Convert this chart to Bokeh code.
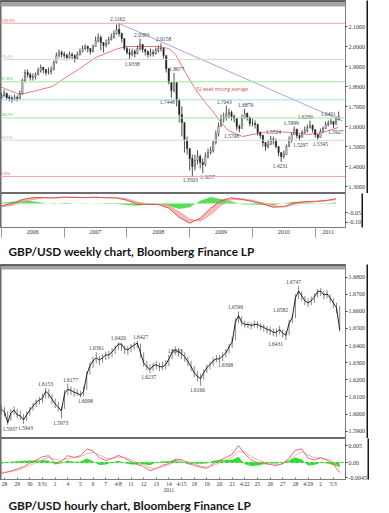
from bokeh.plotting import figure
from bokeh.models import (Range1d, LinearAxis, FixedTicker, BoxAnnotation, Label,
                          Span, ColumnDataSource, NumeralTickFormatter)
from bokeh.layouts import column
from bokeh.embed import file_html
from bokeh.resources import INLINE
from bokeh.core.properties import value

SERIF = "Liberation Serif"
SANS = "Open Sans"
CAPTION_FONT = "Lato"

# ---------------- weekly GBP/USD (x = months since Jan 2006, half-month bars) -------------
wk_close = [
    1.755, 1.765, 1.745, 1.740, 1.735, 1.745, 1.740, 1.765, 1.830, 1.870, 1.860, 1.845,
    1.850, 1.860, 1.880, 1.895, 1.885, 1.870, 1.875, 1.885, 1.920, 1.955, 1.970, 1.960,
    1.955, 1.945, 1.960, 1.955, 1.940, 1.960, 1.975, 1.990, 2.000, 1.990, 1.975, 2.000,
    2.030, 2.045, 2.020, 2.005, 2.015, 2.035, 2.045, 2.065, 2.085, 2.065, 2.040, 1.990,
    1.970, 1.960, 1.975, 1.965, 1.990, 2.010, 1.985, 1.975, 1.960, 1.970, 1.965, 1.980,
    1.990, 1.990, 1.955, 1.890, 1.820, 1.780, 1.820, 1.730, 1.660, 1.620, 1.530, 1.490,
    1.440, 1.400, 1.430, 1.450, 1.420, 1.410, 1.450, 1.470, 1.480, 1.520, 1.560, 1.600,
    1.640, 1.645, 1.660, 1.670, 1.650, 1.640, 1.600, 1.590, 1.640, 1.665, 1.645, 1.615,
    1.615, 1.610, 1.570, 1.555, 1.520, 1.500, 1.510, 1.535, 1.530, 1.500, 1.470, 1.450,
    1.460, 1.500, 1.530, 1.560, 1.585, 1.555, 1.545, 1.570, 1.580, 1.595, 1.605, 1.585,
    1.560, 1.545, 1.575, 1.590, 1.610, 1.615, 1.625, 1.610, 1.635, 1.6492]
wk_high = [
    1.770, 1.785, 1.770, 1.755, 1.750, 1.760, 1.755, 1.780, 1.840, 1.885, 1.885, 1.870,
    1.865, 1.870, 1.895, 1.910, 1.900, 1.885, 1.895, 1.900, 1.930, 1.970, 1.985, 1.980,
    1.975, 1.965, 1.975, 1.970, 1.960, 1.975, 1.990, 2.005, 2.010, 2.005, 1.990, 2.010,
    2.050, 2.065, 2.055, 2.020, 2.035, 2.050, 2.065, 2.080, 2.110, 2.1162, 2.070, 2.040,
    2.000, 1.990, 1.990, 1.985, 2.005, 2.0393, 2.010, 1.990, 1.980, 1.990, 1.985, 1.995,
    2.005, 2.0158, 1.995, 1.950, 1.890, 1.820, 1.8677, 1.820, 1.740, 1.700, 1.580, 1.550,
    1.490, 1.460, 1.460, 1.480, 1.460, 1.440, 1.470, 1.490, 1.500, 1.530, 1.580, 1.620,
    1.660, 1.670, 1.7043, 1.690, 1.680, 1.660, 1.640, 1.610, 1.660, 1.6879, 1.670, 1.650,
    1.640, 1.630, 1.615, 1.575, 1.560, 1.520, 1.530, 1.5524, 1.550, 1.540, 1.500, 1.470,
    1.480, 1.510, 1.550, 1.570, 1.5999, 1.590, 1.560, 1.580, 1.600, 1.610, 1.6299, 1.610,
    1.585, 1.560, 1.590, 1.600, 1.625, 1.630, 1.6401, 1.625, 1.650, 1.6747]
wk_low = [
    1.730, 1.750, 1.735, 1.725, 1.720, 1.730, 1.725, 1.735, 1.760, 1.820, 1.845, 1.830,
    1.830, 1.835, 1.855, 1.870, 1.865, 1.855, 1.860, 1.860, 1.880, 1.915, 1.945, 1.945,
    1.940, 1.930, 1.940, 1.935, 1.920, 1.935, 1.955, 1.970, 1.980, 1.970, 1.960, 1.970,
    2.000, 2.020, 1.980, 1.970, 1.995, 2.010, 2.030, 2.040, 2.060, 2.050, 2.020, 1.980,
    1.960, 1.9338, 1.950, 1.945, 1.960, 1.980, 1.970, 1.955, 1.945, 1.950, 1.950, 1.960,
    1.970, 1.975, 1.940, 1.870, 1.810, 1.7448, 1.770, 1.700, 1.620, 1.550, 1.470, 1.460,
    1.380, 1.3503, 1.380, 1.410, 1.390, 1.3657, 1.400, 1.440, 1.460, 1.470, 1.510, 1.550,
    1.600, 1.620, 1.630, 1.640, 1.630, 1.620, 1.580, 1.5708, 1.600, 1.650, 1.630, 1.600,
    1.600, 1.590, 1.555, 1.540, 1.500, 1.4781, 1.490, 1.510, 1.510, 1.490, 1.450, 1.4231,
    1.440, 1.460, 1.500, 1.520, 1.560, 1.540, 1.5297, 1.550, 1.565, 1.570, 1.590, 1.570,
    1.545, 1.5345, 1.550, 1.570, 1.590, 1.600, 1.610, 1.5927, 1.615, 1.630]
wk_first_open = 1.745

ma_m = [-0.2, 1.5, 3.5, 6.0, 9.75, 12.0, 14.7, 18.0, 21.8, 23.7, 27.0, 30.0, 32.0, 33.3,
        35.2, 37.1, 39.0, 40.9, 41.5, 43.4, 46.1, 49.9, 52.4, 55.6, 58.7, 61.4, 64.4]
ma_v = [1.800, 1.780, 1.760, 1.775, 1.800, 1.840, 1.885, 1.945, 1.985, 2.000, 2.000, 2.000,
        1.990, 1.960, 1.870, 1.785, 1.720, 1.660, 1.635, 1.580, 1.550, 1.570, 1.575, 1.570,
        1.560, 1.570, 1.595]

trend_m = [22.4, 65.2]
trend_v = [2.1162, 1.628]

fib_high, fib_low = 2.1162, 1.3503
fib_ratio = [1.0, 0.764, 0.618, 0.5, 0.382, 0.236, 0.0]
fib_text = ["100.0%", "76.4%", "61.8%", "50.0%", "38.2%", "23.6%", "0.0%"]
fib_line = ["#f3a3a3", "#d6d6d6", "#9fe79f", "#a3dcee", "#9fe79f", "#d6d6d6", "#f3a3a3"]
fib_txt_col = ["#e05555", "#a8a8a8", "#44bb44", "#3aa7cc", "#44bb44", "#a8a8a8", "#e05555"]

wk_lab_m = [22.2, 25.0, 26.8, 31.0, 31.7, 33.5, 36.1, 39.4, 42.6, 46.7, 44.0, 52.0, 53.3,
            55.4, 57.2, 58.1, 61.0, 62.5, 63.9]
wk_lab_v = [2.1162, 1.9338, 2.0393, 2.0158, 1.7448, 1.8677, 1.3503, 1.3657, 1.7043, 1.6879,
            1.5708, 1.5524, 1.4231, 1.5999, 1.5297, 1.6299, 1.5345, 1.6401, 1.5927]
wk_lab_up = [1, 0, 1, 1, 0, 1, 0, 0, 1, 1, 0, 1, 0, 1, 0, 1, 0, 1, 0]

wk_macd_m = [0, 2, 4, 6, 8, 10, 12, 14, 16, 18, 20, 22, 24, 26, 28, 30, 32, 34, 36, 38, 40,
             42, 44, 46, 48, 50, 52, 54, 56, 58, 60, 62, 64]
wk_macd = [-0.012, 0.000, 0.022, 0.032, 0.032, 0.030, 0.035, 0.033, 0.032, 0.034, 0.031,
           0.030, 0.018, -0.004, -0.005, -0.006, -0.025, -0.075, -0.106, -0.080, -0.025,
           0.015, 0.031, 0.022, 0.011, -0.003, -0.020, -0.017, 0.004, 0.010, 0.012, 0.016, 0.026]
wk_signal = [-0.018, -0.010, 0.008, 0.022, 0.030, 0.031, 0.032, 0.033, 0.032, 0.033, 0.032,
             0.031, 0.025, 0.008, -0.002, -0.005, -0.012, -0.045, -0.085, -0.095, -0.060,
             -0.010, 0.020, 0.026, 0.017, 0.004, -0.012, -0.018, -0.006, 0.006, 0.010, 0.014, 0.021]
wk_hist = [0.004, 0.010, 0.016, 0.012, 0.003, -0.002, 0.004, 0.000, -0.001, 0.002, -0.002,
           -0.002, -0.008, -0.012, -0.004, -0.002, -0.013, -0.030, -0.020, 0.015, 0.035,
           0.025, 0.011, -0.004, -0.006, -0.007, -0.008, 0.001, 0.010, 0.004, 0.002, 0.002, 0.005]

wk_year_pos = [6, 18, 30, 42, 54, 62.5]
wk_year_lab = ["2006", "2007", "2008", "2009", "2010", "2011"]
wk_year_edges = [0, 12, 24, 36, 48, 60]

# ---------------- hourly GBP/USD (x = trading-day index from 28 Mar 2011) ----------------
hr_d = [-0.25 + 0.25 * i for i in range(108)]
hr_close = [
    1.6029, 1.6012, 1.5949, 1.6006, 1.6023, 1.5995, 1.5989, 1.5966, 1.5995, 1.6023, 1.6046, 1.6069,
    1.6081, 1.6092, 1.6132, 1.6115, 1.6087, 1.6058, 1.6041, 1.6018, 1.6121, 1.6144, 1.6138, 1.6127,
    1.6121, 1.6110, 1.6132, 1.6230, 1.6282, 1.6311, 1.6328, 1.6316, 1.6328, 1.6345, 1.6345, 1.6362,
    1.6385, 1.6408, 1.6408, 1.6380, 1.6374, 1.6391, 1.6403, 1.6414, 1.6357, 1.6299, 1.6276, 1.6259,
    1.6282, 1.6288, 1.6276, 1.6276, 1.6288, 1.6322, 1.6362, 1.6374, 1.6362, 1.6351, 1.6334, 1.6305,
    1.6276, 1.6242, 1.6219, 1.6207, 1.6242, 1.6271, 1.6288, 1.6311, 1.6322, 1.6322, 1.6339, 1.6357,
    1.6391, 1.6420, 1.6535, 1.6575, 1.6535, 1.6523, 1.6523, 1.6517, 1.6523, 1.6523, 1.6512, 1.6506,
    1.6494, 1.6489, 1.6477, 1.6477, 1.6494, 1.6471, 1.6460, 1.6529, 1.6563, 1.6678, 1.6718, 1.6690,
    1.6661, 1.6649, 1.6661, 1.6684, 1.6713, 1.6718, 1.6695, 1.6701, 1.6678, 1.6649, 1.6621, 1.6492]
hr_low = [
    1.6000, 1.5985, 1.5937, 1.5960, 1.5995, 1.5975, 1.5965, 1.5943, 1.5960, 1.5990, 1.6020, 1.6040,
    1.6055, 1.6065, 1.6090, 1.6090, 1.6060, 1.6035, 1.6015, 1.5973, 1.6030, 1.6110, 1.6110, 1.6100,
    1.6105, 1.6098, 1.6105, 1.6140, 1.6230, 1.6270, 1.6295, 1.6285, 1.6300, 1.6315, 1.6320, 1.6330,
    1.6350, 1.6375, 1.6370, 1.6350, 1.6345, 1.6360, 1.6375, 1.6385, 1.6330, 1.6275, 1.6255, 1.6237,
    1.6250, 1.6260, 1.6250, 1.6255, 1.6260, 1.6280, 1.6320, 1.6345, 1.6335, 1.6320, 1.6305, 1.6280,
    1.6250, 1.6215, 1.6190, 1.6166, 1.6200, 1.6240, 1.6260, 1.6280, 1.6300, 1.6300, 1.6308, 1.6330,
    1.6355, 1.6385, 1.6430, 1.6530, 1.6515, 1.6505, 1.6500, 1.6495, 1.6505, 1.6500, 1.6490, 1.6480,
    1.6470, 1.6460, 1.6455, 1.6450, 1.6465, 1.6445, 1.6431, 1.6460, 1.6530, 1.6560, 1.6670, 1.6660,
    1.6635, 1.6625, 1.6635, 1.6650, 1.6680, 1.6690, 1.6670, 1.6675, 1.6650, 1.6620, 1.6590, 1.6480]
hr_high = [
    1.6050, 1.6040, 1.6015, 1.6030, 1.6045, 1.6030, 1.6020, 1.6000, 1.6015, 1.6040, 1.6065, 1.6085,
    1.6100, 1.6120, 1.6153, 1.6145, 1.6115, 1.6090, 1.6070, 1.6045, 1.6140, 1.6177, 1.6160, 1.6150,
    1.6145, 1.6135, 1.6160, 1.6250, 1.6300, 1.6335, 1.6361, 1.6340, 1.6350, 1.6365, 1.6370, 1.6385,
    1.6400, 1.6420, 1.6415, 1.6400, 1.6395, 1.6410, 1.6420, 1.6427, 1.6410, 1.6360, 1.6310, 1.6290,
    1.6300, 1.6310, 1.6300, 1.6305, 1.6315, 1.6345, 1.6380, 1.6395, 1.6385, 1.6375, 1.6360, 1.6335,
    1.6310, 1.6280, 1.6250, 1.6235, 1.6260, 1.6290, 1.6305, 1.6330, 1.6345, 1.6345, 1.6360, 1.6380,
    1.6410, 1.6450, 1.6560, 1.6599, 1.6570, 1.6545, 1.6540, 1.6535, 1.6545, 1.6540, 1.6530, 1.6525,
    1.6515, 1.6510, 1.6500, 1.6500, 1.6515, 1.6495, 1.6485, 1.6550, 1.6582, 1.6700, 1.6747, 1.6715,
    1.6690, 1.6675, 1.6685, 1.6705, 1.6730, 1.6735, 1.6720, 1.6725, 1.6700, 1.6675, 1.6650, 1.6630]

hr_lab_d = [0.43, 1.66, 3.24, 4.43, 5.22, 6.4, 7.27, 9.0, 10.75, 11.4, 13.5, 15.26, 17.47,
            18.26, 21.42, 21.82, 22.85]
hr_lab_v = [1.5937, 1.5943, 1.6153, 1.5973, 1.6177, 1.6098, 1.6361, 1.6420, 1.6427, 1.6237,
            1.6345, 1.6166, 1.6308, 1.6599, 1.6431, 1.6582, 1.6747]
hr_lab_up = [0, 0, 1, 0, 1, 0, 1, 1, 1, 0, 1, 0, 0, 1, 0, 1, 1]

hr_ind_d = [-0.5 + 0.5 * i for i in range(55)]
hr_macd = [-0.0034, -0.0030, -0.0025, -0.0019, -0.0012, -0.0002, 0.0007, 0.0017, 0.0020, -0.0002,
           0.0004, 0.0020, 0.0015, 0.0020, 0.0040, 0.0034, 0.0014, 0.0006, 0.0012, 0.0021,
           0.0013, 0.0002, -0.0006, -0.0012, -0.0024, -0.0018, -0.0008, -0.0003, 0.0010, 0.0008,
           -0.0003, -0.0008, -0.0014, -0.0017, -0.0004, 0.0006, 0.0015, 0.0024, 0.0050, 0.0025,
           0.0008, -0.0001, -0.0003, -0.0006, -0.0009, -0.0003, 0.0012, 0.0036, 0.0040, 0.0013,
           0.0007, 0.0014, 0.0007, -0.0005, -0.0030]
hr_signal = [-0.0028, -0.0029, -0.0027, -0.0023, -0.0017, -0.0009, 0.0000, 0.0009, 0.0015, 0.0010,
             0.0006, 0.0012, 0.0014, 0.0017, 0.0026, 0.0030, 0.0022, 0.0013, 0.0012, 0.0016,
             0.0015, 0.0008, 0.0000, -0.0007, -0.0016, -0.0017, -0.0012, -0.0007, 0.0002, 0.0006,
             0.0002, -0.0004, -0.0010, -0.0014, -0.0009, -0.0001, 0.0008, 0.0016, 0.0033, 0.0030,
             0.0018, 0.0008, 0.0002, -0.0003, -0.0006, -0.0004, 0.0005, 0.0021, 0.0031, 0.0022,
             0.0014, 0.0014, 0.0010, 0.0002, -0.0016]
hr_hist = [-0.0003, -0.0002, 0.0002, 0.0004, 0.0005, 0.0006, 0.0006, 0.0007, 0.0005, -0.0006,
           -0.0002, 0.0006, 0.0002, 0.0003, 0.0012, 0.0004, -0.0007, -0.0006, 0.0000, 0.0005,
           -0.0002, -0.0006, -0.0006, -0.0005, -0.0008, 0.0000, 0.0004, 0.0004, 0.0008, 0.0002,
           -0.0005, -0.0004, -0.0004, -0.0003, 0.0005, 0.0007, 0.0007, 0.0008, 0.0017, -0.0005,
           -0.0010, -0.0009, -0.0005, -0.0003, -0.0003, 0.0001, 0.0007, 0.0015, 0.0009, -0.0009,
           -0.0007, 0.0000, -0.0003, -0.0007, -0.0014]

hr_tick_d = list(range(27))
hr_tick_lab = ["28", "29", "30", "3/31", "1", "4", "5", "6", "7", "4/8", "11", "12", "13",
               "14\n2011", "4/15", "18", "19", "20", "21", "4/22", "25", "26", "27", "28",
               "4/29", "2", "5/3"]


# ---------------- helpers ----------------
def style_right_axis(ax, ticks, fmt=None, overrides=None):
    ax.ticker = FixedTicker(ticks=ticks)
    if fmt:
        ax.formatter = NumeralTickFormatter(format=fmt)
    if overrides:
        ax.major_label_overrides = overrides
    ax.major_tick_out = 2
    ax.major_tick_in = 0
    ax.minor_tick_line_color = None
    ax.major_label_standoff = 1
    ax.axis_line_color = "#7c7c7c"
    ax.major_tick_line_color = "#444444"
    ax.major_label_text_font = SERIF
    ax.major_label_text_font_size = "6px"
    ax.major_label_text_color = "#333333"


def make_fig(frame_h, xr, yr, yticks, fmt=None, overrides=None, xloc=None, title=None):
    kw = {}
    if title is not None:
        kw["title"] = title
        kw["title_location"] = "below"
    p = figure(frame_width=345, frame_height=frame_h, x_range=xr, y_range=yr,
               output_backend="svg", toolbar_location=None,
               x_axis_location=xloc, y_axis_location="right",
               min_border_left=0, min_border_right=0, min_border_top=0, min_border_bottom=0,
               background_fill_color="white", border_fill_color="white",
               outline_line_color="#6c6c6c", outline_line_width=1, **kw)
    p.xgrid.visible = False
    p.ygrid.visible = False
    # the price/indicator scale on the right
    style_right_axis(p.right[0], yticks, fmt, overrides)
    # thick dark border right of the scale
    bar = LinearAxis(ticker=FixedTicker(ticks=[]), axis_line_color="#161616", axis_line_width=4,
                     major_tick_out=0, major_tick_in=0, minor_tick_out=0, minor_tick_in=0,
                     major_label_standoff=0, major_label_text_font_size="0px")
    p.add_layout(bar, "right")
    # left gutter: an axis whose only label is transparent, drawn as a grey frame border
    mid = 0.5 * (yr.start + yr.end)
    gutter = LinearAxis(ticker=FixedTicker(ticks=[mid]), major_label_overrides={mid: "00"},
                        major_label_text_alpha=0, major_label_text_font=SERIF,
                        major_label_text_font_size="6px", major_label_standoff=1,
                        major_tick_out=0, major_tick_in=0, major_tick_line_color=None,
                        minor_tick_line_color=None, axis_line_color="#6a6a6a",
                        axis_line_width=2)
    p.add_layout(gutter, "left")
    return p


def box_label(p, x, y, text, fill, color, border):
    p.add_layout(Label(x=x, y=y, text=text, x_offset=1, text_font=SERIF, text_font_size="6px",
                       text_color=color, text_baseline="middle",
                       background_fill_color=fill, border_line_color=border))


def strip(p, dark, bottom):
    p.add_layout(BoxAnnotation(bottom=dark, fill_color="#5c5c5c", fill_alpha=1, line_color=None))
    p.add_layout(BoxAnnotation(bottom=bottom, top=dark, fill_color="#a3a3a3", fill_alpha=1,
                               line_color=None))


def price_labels(p, xs, vs, ups, size):
    src = ColumnDataSource(dict(x=xs, y=vs, t=[f"{v:.4f}" for v in vs],
                                off=[-4 if u else 4 for u in ups]))
    p.text(x="x", y="y", text="t", y_offset="off", source=src, text_font=value(SERIF),
           text_font_size=value(size), text_color="#3a3a48", text_align="center",
           text_baseline="middle")


def style_caption(p, offset, standoff):
    p.title.text_font = CAPTION_FONT
    p.title.text_font_size = "11.8px"
    p.title.text_font_style = "bold"
    p.title.text_color = "#141418"
    p.title.align = "left"
    p.title.standoff = standoff
    p.title.offset = offset


# ---------------- weekly main ----------------
wk_xr = Range1d(-0.19, 65.8)
f1 = make_fig(193, wk_xr, Range1d(1.265, 2.23),
              [1.3, 1.4, 1.5, 1.6, 1.7, 1.8, 1.9, 2.0, 2.1], fmt="0.0000")
strip(f1, 2.22, 2.2)

for r, t, lc, tc in zip(fib_ratio, fib_text, fib_line, fib_txt_col):
    lvl = fib_low + r * (fib_high - fib_low)
    f1.add_layout(Span(location=lvl, dimension="width", line_color=lc, line_width=1))
    f1.text(x=[-0.05], y=[lvl], text=[t], text_font=value(SANS), text_font_size=value("4px"),
            text_color=tc, text_baseline="bottom", y_offset=-0.5)

f1.line(trend_m, trend_v, line_color="#a6a6e0", line_width=1)
f1.line(ma_m, ma_v, line_color="#ee7878", line_width=1)
f1.text(x=[42.2], y=[1.79], text=["52 week moving average"], text_font=value(SANS),
        text_font_size=value("4.5px"), text_color="#e04848", text_align="center",
        text_baseline="middle")

wk_x = [0.5 * i for i in range(len(wk_close))]
wk_open = [wk_first_open] + wk_close[:-1]
up = [c >= o for o, c in zip(wk_open, wk_close)]
wsrc = ColumnDataSource(dict(x=wk_x, hi=wk_high, lo=wk_low,
                             top=[max(o, c) for o, c in zip(wk_open, wk_close)],
                             bot=[min(o, c) for o, c in zip(wk_open, wk_close)],
                             fill=["white" if u else "#222222" for u in up]))
f1.segment(x0="x", y0="lo", x1="x", y1="hi", source=wsrc, line_color="#222222", line_width=0.8)
f1.vbar(x="x", top="top", bottom="bot", width=0.24, source=wsrc, fill_color="fill",
        line_color="#222222", line_width=0.5)
price_labels(f1, wk_lab_m, wk_lab_v, wk_lab_up, "5.5px")
box_label(f1, 65.8, 1.6492, "1.6492", "white", "#222222", "#333333")
box_label(f1, 65.8, 1.575, "1.5747", "#e02020", "white", "#e02020")

# ---------------- weekly indicator ----------------
f2 = make_fig(34, wk_xr, Range1d(-0.1297, 0.0541), [-0.05, -0.10],
              overrides={-0.05: "-0.05", -0.10: "-0.10"}, xloc="below",
              title="GBP/USD weekly chart, Bloomberg Finance LP")
xa = f2.xaxis[0]
xa.ticker = FixedTicker(ticks=wk_year_pos, minor_ticks=wk_year_edges)
xa.major_label_overrides = dict(zip(wk_year_pos, wk_year_lab))
xa.major_tick_line_color = None
xa.major_tick_out = 0
xa.major_tick_in = 0
xa.minor_tick_in = 0
xa.minor_tick_out = 10
xa.minor_tick_line_color = "#9a9a9a"
xa.axis_line_color = "#7c7c7c"
xa.major_label_standoff = -8
xa.major_label_text_font = SERIF
xa.major_label_text_font_size = "6px"
xa.major_label_text_color = "#333333"
f2.varea(x=wk_macd_m, y1=wk_macd, y2=wk_signal, fill_color="#f5b4b4", fill_alpha=0.9)
f2.varea(x=wk_macd_m, y1=[0] * len(wk_hist), y2=wk_hist, fill_color="#46dc46", fill_alpha=0.9)
f2.line(wk_macd_m, wk_signal, line_color="#f2a0a0", line_width=1)
f2.line(wk_macd_m, wk_macd, line_color="#e05050", line_width=1)
box_label(f2, 65.8, 0.021, "0.0203", "white", "#222222", "#333333")
box_label(f2, 65.8, 0.004, "0.0015", "#22cc22", "#0a5a0a", "#22cc22")
style_caption(f2, 8, 11)

# ---------------- hourly main ----------------
hr_xr = Range1d(-0.32, 26.96)
f3 = make_fig(174, hr_xr, Range1d(1.5857, 1.6873),
              [1.59, 1.60, 1.61, 1.62, 1.63, 1.64, 1.65, 1.66, 1.67, 1.68], fmt="0.0000")
strip(f3, 1.6861, 1.6844)
hsrc = ColumnDataSource(dict(x=hr_d, c=hr_close, lo=hr_low, hi=hr_high))
f3.segment(x0="x", y0="lo", x1="x", y1="hi", source=hsrc, line_color="#333333", line_width=0.6)
f3.line(x="x", y="c", source=hsrc, line_color="#111111", line_width=0.9)
price_labels(f3, hr_lab_d, hr_lab_v, hr_lab_up, "5.5px")
box_label(f3, 26.96, 1.6492, "1.6492", "white", "#222222", "#333333")

# ---------------- hourly indicator ----------------
f4 = make_fig(41, hr_xr, Range1d(-0.0050, 0.00706), [0.005, 0.0, -0.0045],
              overrides={0.005: "0.005", 0.0: "0.00", -0.0045: "-0.0045"}, xloc="below",
              title="GBP/USD hourly chart, Bloomberg Finance LP")
xb = f4.xaxis[0]
xb.ticker = FixedTicker(ticks=hr_tick_d)
xb.major_label_overrides = dict(zip(hr_tick_d, hr_tick_lab))
xb.major_tick_in = 2
xb.major_tick_out = 0
xb.major_tick_line_color = "#777777"
xb.minor_tick_line_color = None
xb.axis_line_color = "#7c7c7c"
xb.major_label_standoff = 1
xb.major_label_text_font = SERIF
xb.major_label_text_font_size = "5.5px"
xb.major_label_text_color = "#333333"
xb.major_label_text_line_height = 1.0
f4.add_layout(Span(location=0, dimension="width", line_color="#33cc33", line_width=1,
                   line_dash="3 2"))
f4.varea(x=hr_ind_d, y1=[0] * len(hr_hist), y2=hr_hist, fill_color="#22dd22", fill_alpha=0.95)
f4.line(hr_ind_d, hr_signal, line_color="#f4b0b0", line_width=1)
f4.line(hr_ind_d, hr_macd, line_color="#e87070", line_width=1)
box_label(f4, 26.96, -0.0016, "0.0031", "#22cc22", "#0a5a0a", "#22cc22")
box_label(f4, 26.96, -0.0027, "-0.0025", "#e02020", "white", "#e02020")
style_caption(f4, 8, 0)

root = column(f1, f2, f3, f4, spacing=0)
open("out.html", "w").write(file_html(root, INLINE))
